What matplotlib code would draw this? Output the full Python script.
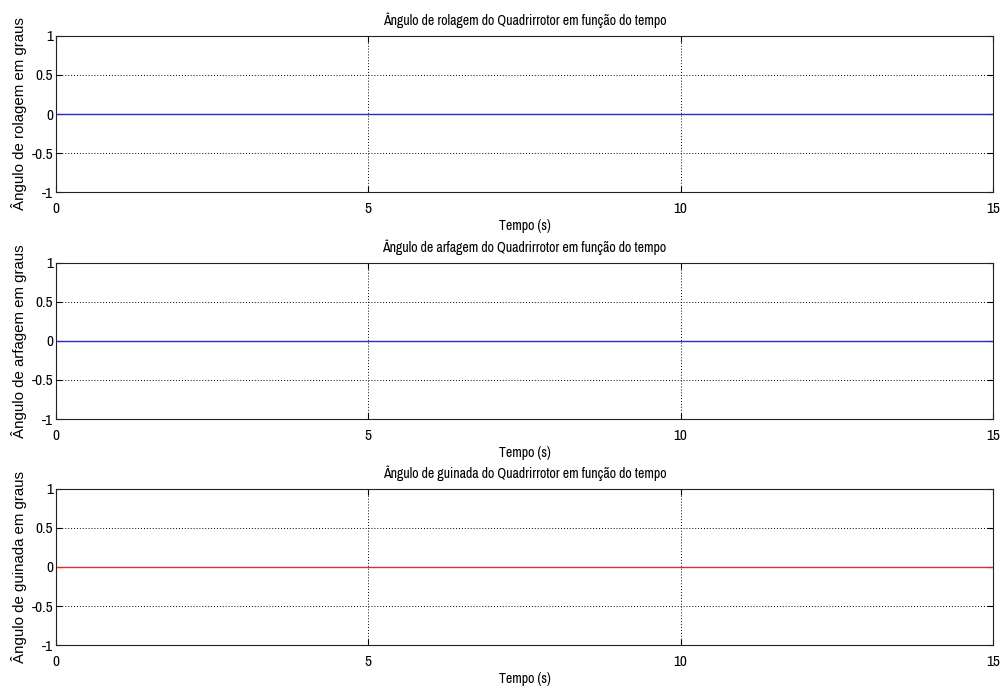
import matplotlib.pyplot as plt

plt.rcParams['font.family'] = ['Archivo Narrow', 'Liberation Sans', 'DejaVu Sans']

# Simulated attitude of the quadrotor (degrees)
tempo = [0.0, 15.0]
rolagem = [0.0, 0.0]
arfagem = [0.0, 0.0]
guinada = [0.0, 0.0]

xticks = [0, 5, 10, 15]
yticks = [-1, -0.5, 0, 0.5, 1]
yticklabels = ['-1', '-0.5', '0', '0.5', '1']

paineis = [
    (rolagem, '#2a2ac0', 'Ângulo de rolagem do Quadrirrotor em função do tempo', 'Ângulo de rolagem em graus'),
    (arfagem, '#2a2ac0', 'Ângulo de arfagem do Quadrirrotor em função do tempo', 'Ângulo de arfagem em graus'),
    (guinada, '#d83030', 'Ângulo de guinada do Quadrirrotor em função do tempo', 'Ângulo de guinada em graus'),
]

fig = plt.figure(figsize=(10.06, 6.92), dpi=100)
bottoms = [0.7225, 0.3945, 0.0679]
height = 0.2255

for (serie, cor, titulo, ylabel), b in zip(paineis, bottoms):
    ax = fig.add_axes([0.0557, b, 0.9313, height])
    ax.plot(tempo, serie, color=cor, linewidth=1)
    ax.set_xlim(0, 15)
    ax.set_ylim(-1, 1)
    ax.set_xticks(xticks)
    ax.set_yticks(yticks)
    ax.set_yticklabels(yticklabels)
    ax.grid(True, linestyle=(0, (1, 2)), color='black', linewidth=0.7)
    ax.tick_params(direction='in', top=True, right=True, labelsize=11, length=4)
    ax.tick_params(axis='x', pad=7)
    ax.tick_params(axis='y', pad=2)
    for s in ax.spines.values():
        s.set_linewidth(0.8)
        s.set_color('#222222')
    ax.set_title(titulo, fontsize=10, pad=8)
    ax.set_xlabel('Tempo (s)', fontsize=10, labelpad=2)
    # rotated label is drawn in the wider sans face
    ax.set_ylabel(ylabel, fontsize=10.8, labelpad=3,
                  family=['Liberation Sans', 'DejaVu Sans'])

fig.savefig('out.png', dpi=100)
